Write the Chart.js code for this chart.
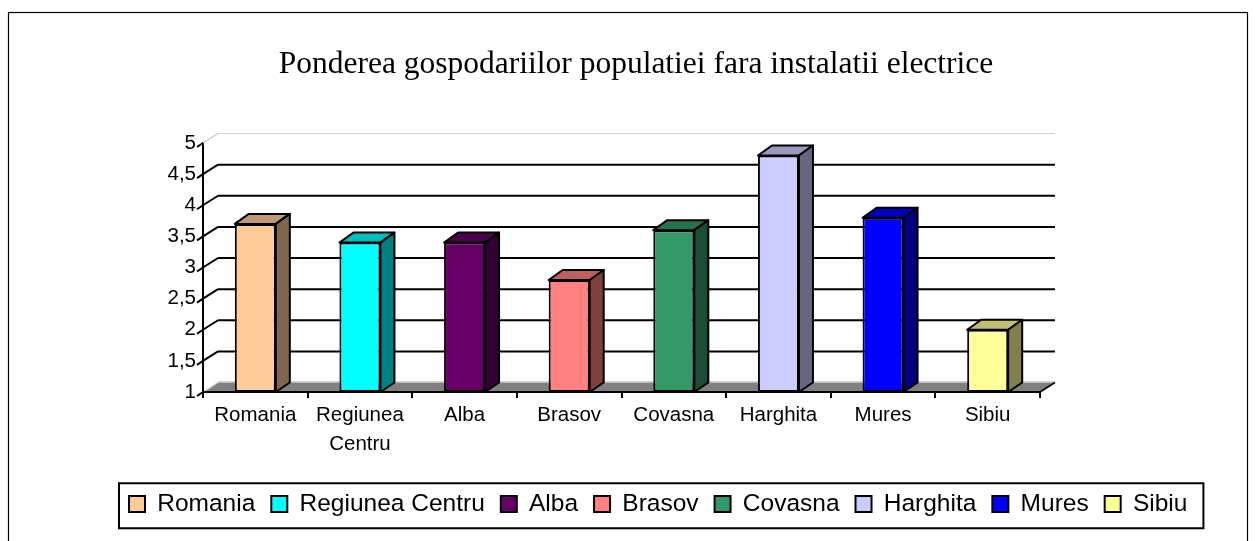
<!DOCTYPE html>
<html>
<head>
<meta charset="utf-8">
<script src="https://cdn.jsdelivr.net/npm/chart.js@4/dist/chart.umd.min.js"></script>
<style>
html,body{margin:0;padding:0;background:#fff;}
</style>
</head>
<body>
<canvas id="chart" width="1255" height="541"></canvas>
<script>
//data
var categories=["Romania","Regiunea Centru","Alba","Brasov","Covasna","Harghita","Mures","Sibiu"]
var values=[3.7,3.4,3.4,2.8,3.6,4.8,3.8,2.0]
var bar_colors=["#FFCC99","#00FFFF","#660066","#FF8080","#339966","#CCCCFF","#0000FF","#FFFF99"]
var y_min=1
var y_max=5
var y_step=0.5

var title_text="Ponderea gospodariilor populatiei fara instalatii electrice"

var sans="'Liberation Sans', Arial, sans-serif"
var serif="'Liberation Serif', 'Times New Roman', serif"

var depth={x:14,y:-10}      //depth of the bars
var wall={x:15,y:-9.5}      //depth of the back wall
var pad_left=113            //room left of the y axis (legend starts here)

function shade(hex,f){  //darker tone for the top and side faces
    var n=parseInt(hex.slice(1),16)
    var r=Math.round(((n>>16)&255)*f),g=Math.round(((n>>8)&255)*f),b=Math.round((n&255)*f)
    return `rgb(${r},${g},${b})`
}

function poly(ctx,pts,fill,stroke,lw){
    ctx.beginPath()
    ctx.moveTo(pts[0][0],pts[0][1])
    for(var i=1;i<pts.length;i++) ctx.lineTo(pts[i][0],pts[i][1])
    ctx.closePath()
    if(fill){ctx.fillStyle=fill;ctx.fill()}
    if(stroke){ctx.strokeStyle=stroke;ctx.lineWidth=lw;ctx.stroke()}
}

function line(ctx,x1,y1,x2,y2,color,lw){
    ctx.beginPath()
    ctx.moveTo(x1,y1)
    ctx.lineTo(x2,y2)
    ctx.strokeStyle=color
    ctx.lineWidth=lw
    ctx.stroke()
}

const frame={   //outer border of the chart
    id:'frame',
    beforeDraw:(chart)=>{
        const {ctx}=chart
        ctx.save()
        ctx.fillStyle='#fff'
        ctx.fillRect(0,0,chart.width,chart.height)
        ctx.strokeStyle='#000'
        ctx.lineWidth=1.2
        ctx.strokeRect(8.5,12.5,1239,560)
        ctx.restore()
    }
}

const chartTitle={  //title, centred on the whole frame
    id:'chartTitle',
    afterDraw:(chart)=>{
        const {ctx}=chart
        ctx.save()
        ctx.font=`31.5px ${serif}`
        ctx.fillStyle='#000'
        ctx.textAlign='center'
        ctx.textBaseline='alphabetic'
        ctx.fillText(title_text,636,72.5)
        ctx.restore()
    }
}

const box3d={   //back wall, floor and the 3d faces of the bars
    id:'box3d',
    beforeDatasetsDraw:(chart)=>{
        const {ctx,chartArea}=chart
        const {left,right,top,bottom}=chartArea
        const y=chart.scales.y
        ctx.save()
        ctx.lineCap='butt'

        //floor
        poly(ctx,[[left,bottom],[right,bottom],[right+wall.x,bottom+wall.y],[left+wall.x,bottom+wall.y]],'#808080')
        line(ctx,left+wall.x,bottom+wall.y-1,right+wall.x,bottom+wall.y-1,'#d0d0d0',1.2)
        line(ctx,left+1,bottom,left+wall.x,bottom+wall.y,'#c8c8c8',1.2)
        line(ctx,right,bottom,right+wall.x,bottom+wall.y,'#000',1.5)

        //grid lines on the back wall and on the side wall
        y.ticks.forEach(t=>{
            var py=y.getPixelForValue(t.value)
            if(t.value>y_min && t.value<y_max){
                line(ctx,left+wall.x,py+wall.y,right+wall.x,py+wall.y,'#000',2)
                line(ctx,left,py,left+wall.x,py+wall.y,'#000',2)
            }
            //tick mark along the depth
            line(ctx,left-6,py+4,left,py,'#000',2)
        })
        line(ctx,left+wall.x,top+wall.y,right+wall.x,top+wall.y,'#d0d0d0',1.2)
        line(ctx,left,top,left+wall.x,top+wall.y,'#c8c8c8',1.2)

        //axis line again over the floor
        line(ctx,left,bottom,right,bottom,'#000',2)

        //top and side faces
        const meta=chart.getDatasetMeta(0)
        ctx.lineJoin='round'
        meta.data.forEach((bar,i)=>{
            const p=bar.getProps(['x','y','base','width'],true)
            const l=p.x-p.width/2,r=p.x+p.width/2
            poly(ctx,[[l,p.y],[l+depth.x,p.y+depth.y],[r+depth.x,p.y+depth.y],[r,p.y]],shade(bar_colors[i],0.75),'#000',2)
            poly(ctx,[[r,p.y],[r+depth.x,p.y+depth.y],[r+depth.x,p.base+wall.y],[r,p.base]],shade(bar_colors[i],0.5),'#000',2)
        })
        ctx.restore()
    }
}

const legendBox={   //rectangle round the legend
    id:'legendBox',
    afterDraw:(chart)=>{
        const {ctx}=chart
        const hb=chart.legend.legendHitBoxes
        if(!hb||!hb.length) return
        const first=hb[0],last=hb[hb.length-1]
        const x1=first.left-10,x2=last.left+last.width+16
        const y1=first.top-8.5,y2=y1+45
        ctx.save()
        ctx.strokeStyle='#000'
        ctx.lineWidth=2
        ctx.strokeRect(x1,y1,x2-x1,y2-y1)
        ctx.restore()
    }
}

var config={
    type:'bar',
    data:{
        labels:categories,
        datasets:[{
            label:title_text,
            data:values,
            base:y_min,
            backgroundColor:bar_colors,
            borderColor:'#000',
            borderWidth:2,
            borderSkipped:false,
            categoryPercentage:1,
            barPercentage:0.392
        }]
    },
    options:{
        responsive:false,
        animation:false,
        devicePixelRatio:1,
        layout:{
            padding:{left:pad_left,right:0,top:143,bottom:14.75}
        },
        plugins:{
            tooltip:{enabled:false},
            title:{display:false},
            legend:{
                display:true,
                position:'bottom',
                align:'start',
                labels:{
                    color:'#000',
                    font:{family:sans,size:24.5},
                    boxWidth:16,
                    boxHeight:16,
                    padding:16,
                    generateLabels:function(chart){
                        return categories.map((c,i)=>({
                            text:c,
                            fillStyle:bar_colors[i],
                            strokeStyle:'#000',
                            lineWidth:2,
                            hidden:false,
                            index:i,
                            datasetIndex:0
                        }))
                    }
                },
                onClick:null
            }
        },
        scales:{
            x:{
                offset:true,
                grid:{
                    display:true,
                    drawOnChartArea:false,
                    drawTicks:true,
                    tickLength:6,
                    color:'#000',
                    lineWidth:2
                },
                border:{display:true,color:'#000',width:2},
                ticks:{
                    color:'#000',
                    font:{family:sans,size:20.5,lineHeight:1.4},
                    padding:3,
                    maxRotation:0,
                    minRotation:0,
                    autoSkip:false,
                    callback:function(v,i){
                        var c=categories[i]
                        return c.indexOf(' ')>0 ? c.split(' ') : c
                    }
                },
                afterFit:function(s){
                    s.height=83.75
                    s.paddingLeft=0
                    s.paddingRight=0
                }
            },
            y:{
                min:y_min,
                max:y_max,
                grid:{display:false,drawTicks:false},
                border:{display:true,color:'#000',width:2},
                ticks:{
                    stepSize:y_step,
                    color:'#000',
                    font:{family:sans,size:20.5},
                    padding:7,
                    callback:function(v){
                        return String(v).replace('.',',')
                    }
                },
                afterFit:function(s){
                    s.width=203-pad_left
                    s.paddingTop=0
                    s.paddingBottom=0
                }
            },
            right:{   //keeps room on the right side like the original
                position:'right',
                display:true,
                grid:{display:false,drawTicks:false},
                border:{display:false},
                ticks:{display:false},
                afterFit:function(s){
                    s.width=1255-1040
                    s.paddingTop=0
                    s.paddingBottom=0
                }
            }
        }
    },
    plugins:[frame,box3d,legendBox,chartTitle]
}

var chart=new Chart(document.getElementById('chart'),config)
</script>
</body>
</html>
